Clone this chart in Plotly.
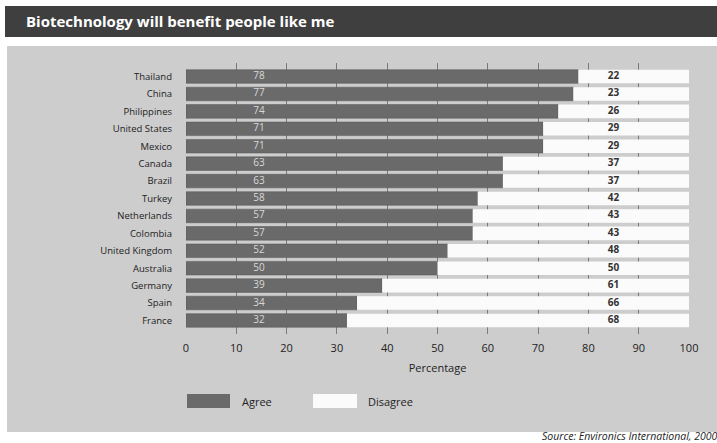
import plotly.graph_objects as go

countries = ["Thailand", "China", "Philippines", "United States", "Mexico", "Canada",
             "Brazil", "Turkey", "Netherlands", "Colombia", "United Kingdom",
             "Australia", "Germany", "Spain", "France"]
agree = [78, 77, 74, 71, 71, 63, 63, 58, 57, 57, 52, 50, 39, 34, 32]
disagree = [22, 23, 26, 29, 29, 37, 37, 42, 43, 43, 48, 50, 61, 66, 68]
x_ticks = [0, 10, 20, 30, 40, 50, 60, 70, 80, 90, 100]

title_text = "Biotechnology will benefit people like me"
source_text = "Source: Environics International, 2000"

FONT = "Open Sans"
AGREE_COLOR = "#6a6a6a"
DISAGREE_COLOR = "#fbfbfb"
PANEL = "#cdcdcd"

W, H = 717, 443
L, R, T, B = 186, 28, 63, 109
pw, ph = W - L - R, H - T - B


def px(x):
    return (x - L) / pw


def py(y):
    return (H - B - y) / ph


fig = go.Figure()
fig.add_trace(go.Bar(y=countries, x=agree, orientation="h", name="Agree",
                     marker=dict(color=AGREE_COLOR, line=dict(color="#555", width=0.5)),
                     hoverinfo="x+y"))
fig.add_trace(go.Bar(y=countries, x=disagree, base=agree, orientation="h", name="Disagree",
                     marker=dict(color=DISAGREE_COLOR, line=dict(width=0)),
                     hoverinfo="x+y"))

AGREE_LABEL_X = 14.5
DISAGREE_LABEL_X = 85
fig.add_trace(go.Scatter(y=countries, x=[AGREE_LABEL_X] * len(countries), mode="text",
                         text=[str(v) for v in agree],
                         textfont=dict(family=FONT, size=10, color="#d8d8d8"),
                         hoverinfo="skip", showlegend=False))
fig.add_trace(go.Scatter(y=countries, x=[DISAGREE_LABEL_X] * len(countries), mode="text",
                         text=[f"<b>{v}</b>" for v in disagree],
                         textfont=dict(family=FONT, size=10, color="#333"),
                         hoverinfo="skip", showlegend=False))

shapes = [
    dict(type="rect", xref="paper", yref="paper", x0=px(7), x1=px(717), y0=py(432), y1=py(46),
         fillcolor=PANEL, line=dict(width=0), layer="below"),
    dict(type="rect", xref="paper", yref="paper", x0=px(5), x1=px(717), y0=py(37), y1=py(6),
         fillcolor="#3f3f3f", line=dict(width=0), layer="below"),
    dict(type="rect", xref="paper", yref="paper", x0=px(187), x1=px(230), y0=py(408), y1=py(394),
         fillcolor=AGREE_COLOR, line=dict(width=0)),
    dict(type="rect", xref="paper", yref="paper", x0=px(313), x1=px(357), y0=py(408), y1=py(394),
         fillcolor=DISAGREE_COLOR, line=dict(width=0)),
]

annotations = [
    dict(text=f"<b>{title_text}</b>", xref="paper", yref="paper", x=px(24), y=py(21),
         xanchor="left", yanchor="middle", showarrow=False,
         font=dict(family=FONT, size=15, color="white")),
    dict(text="Agree", xref="paper", yref="paper", x=px(240), y=py(401),
         xanchor="left", yanchor="middle", showarrow=False,
         font=dict(family=FONT, size=11, color="#222")),
    dict(text="Disagree", xref="paper", yref="paper", x=px(366), y=py(401),
         xanchor="left", yanchor="middle", showarrow=False,
         font=dict(family=FONT, size=11, color="#222")),
    dict(text=f"<i>{source_text}</i>", xref="paper", yref="paper", x=px(540), y=py(436),
         xanchor="left", yanchor="middle", showarrow=False,
         font=dict(family=FONT, size=10.5, color="#222")),
]

fig.update_layout(
    width=W, height=H,
    margin=dict(l=L, r=R, t=T, b=B),
    barmode="overlay",
    bargap=0.22,
    showlegend=False,
    paper_bgcolor="white",
    plot_bgcolor="#e2e2e2",
    shapes=shapes,
    annotations=annotations,
    font=dict(family=FONT, color="#222"),
    xaxis=dict(range=[0, 100], tickvals=x_ticks, showgrid=True, gridcolor="#7a7a7a",
               gridwidth=1, zeroline=False, showline=False, ticks="", ticklabelstandoff=6,
               tickfont=dict(size=11, color="#222"),
               title=dict(text="Percentage", font=dict(size=11, color="#222"), standoff=10)),
    yaxis=dict(categoryorder="array", categoryarray=countries, autorange="reversed",
               showgrid=False, zeroline=False, ticks="", ticklabelstandoff=13,
               tickfont=dict(size=9.5, color="#222")),
)

fig.write_html("out.html")
